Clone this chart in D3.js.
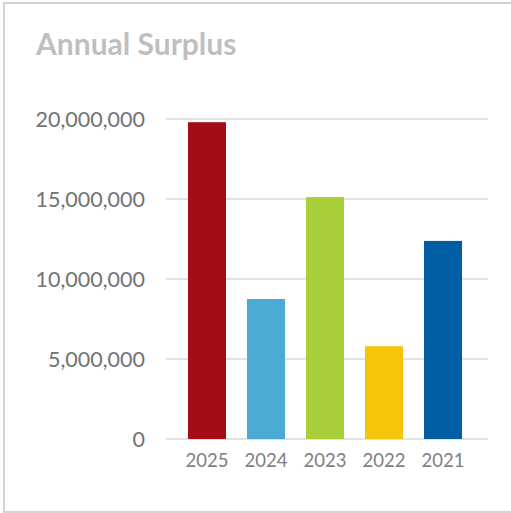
<!DOCTYPE html>
<html>
<head>
<meta charset="utf-8">
<script src="https://cdn.jsdelivr.net/npm/d3@7"></script>
<style>
  html, body { margin: 0; padding: 0; background: #fff; }
  svg { display: block; }
</style>
</head>
<body>
<svg id="chart" width="511" height="513"></svg>
<script>
// Annual surplus per year
const years = ["2025", "2024", "2023", "2022", "2021"];
const surplus = [19800000, 8750000, 15120000, 5800000, 12380000];
const barColors = ["#a50d16", "#4aabd5", "#a8cf3a", "#f5c30a", "#005ea5"];
const yTicks = [0, 5000000, 10000000, 15000000, 20000000];

const svg = d3.select("#chart");
const W = 511, H = 513;

// frame around the chart area (right side runs past the edge)
svg.append("rect")
  .attr("x", 4).attr("y", 3)
  .attr("width", W + 10).attr("height", H - 4)
  .attr("fill", "#fff")
  .attr("stroke", "#d4d4d4")
  .attr("stroke-width", 2);

// title
svg.append("text")
  .attr("x", 36).attr("y", 55)
  .attr("font-family", "Lato, 'Open Sans', sans-serif")
  .attr("font-weight", "bold")
  .attr("font-size", 30)
  .attr("fill", "#bfbfbf")
  .text("Annual Surplus");

const gridLeft = 166, gridRight = 488;
const y = d3.scaleLinear().domain([0, 20000000]).range([439, 119]);
const x = d3.scaleBand().domain(years).range([177.5, 472.5]).paddingInner(0.356).paddingOuter(0.178);

// horizontal gridlines
svg.append("g").selectAll("line")
  .data(yTicks)
  .join("line")
  .attr("x1", gridLeft).attr("x2", gridRight)
  .attr("y1", d => y(d)).attr("y2", d => y(d))
  .attr("stroke", "#d9d9d9")
  .attr("stroke-width", 1.5);

// value axis labels
const yAxis = d3.axisLeft(y).tickValues(yTicks).tickFormat(d3.format(",")).tickSize(0).tickPadding(0);
const gy = svg.append("g").attr("transform", "translate(145,0)").call(yAxis);
gy.select(".domain").remove();
gy.selectAll("text")
  .attr("font-family", "Lato, 'Open Sans', sans-serif")
  .attr("font-size", 21.5)
  .attr("fill", "#737373")
  .attr("dy", "0.35em");

// bars
svg.append("g").selectAll("rect")
  .data(years.map((yr, i) => ({ yr, v: surplus[i], c: barColors[i] })))
  .join("rect")
  .attr("x", d => x(d.yr))
  .attr("width", x.bandwidth())
  .attr("y", d => y(d.v))
  .attr("height", d => y(0) - y(d.v))
  .attr("fill", d => d.c);

// category axis labels
const xAxis = d3.axisBottom(x).tickSize(0).tickPadding(0);
const gx = svg.append("g").attr("transform", "translate(0,461)").call(xAxis);
gx.select(".domain").remove();
gx.selectAll("text")
  .attr("font-family", "Lato, 'Open Sans', sans-serif")
  .attr("font-size", 18.5)
  .attr("fill", "#808080")
  .attr("dy", "0.35em");
</script>
</body>
</html>
